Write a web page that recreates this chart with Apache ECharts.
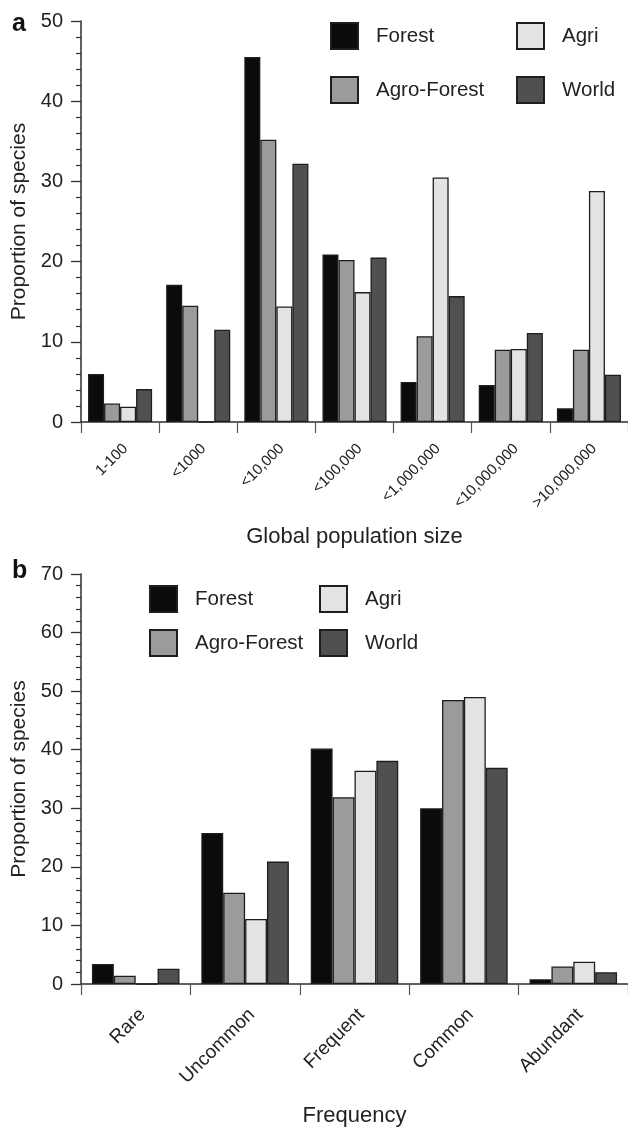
<!DOCTYPE html>
<html>
<head>
<meta charset="utf-8">
<script src="https://cdn.jsdelivr.net/npm/echarts@6/dist/echarts.min.js"></script>
<style>
  html, body { margin: 0; padding: 0; background: #ffffff; }
  #chart { width: 628px; height: 1128px; }
</style>
</head>
<body>
<div id="chart"></div>
<script>
// Panel a: global population size classes
const popCategories = ['1-100', '<1000', '<10,000', '<100,000', '<1,000,000', '<10,000,000', '>10,000,000'];
const popForest      = [6.0, 17.1, 45.5, 20.9, 5.0, 4.6, 1.7];
const popAgroForest  = [2.3, 14.5, 35.2, 20.2, 10.7, 9.0, 9.0];
const popAgri        = [1.9, 0, 14.4, 16.2, 30.5, 9.1, 28.8];
const popWorld       = [4.1, 11.5, 32.2, 20.5, 15.7, 11.1, 5.9];

// Panel b: frequency classes
const freqCategories = ['Rare', 'Uncommon', 'Frequent', 'Common', 'Abundant'];
const freqForest     = [3.4, 25.8, 40.2, 30.0, 0.8];
const freqAgroForest = [1.4, 15.6, 31.9, 48.5, 3.0];
const freqAgri       = [0, 11.1, 36.4, 49.0, 3.8];
const freqWorld      = [2.6, 20.9, 38.1, 36.9, 2.0];

const seriesColors = { 'Forest': '#0b0b0b', 'Agro-Forest': '#9b9b9b', 'Agri': '#e3e3e3', 'World': '#505050' };

const FONT = 'Liberation Sans, Arial, Helvetica, sans-serif';
const AXIS_COLOR = '#2e2e2e';

function xAxisFor(gridIndex, cats, name, nameGap, labelSize, labelMargin) {
  return {
    type: 'category', gridIndex: gridIndex, data: cats,
    name: name, nameLocation: 'middle', nameGap: nameGap,
    nameTextStyle: { fontFamily: FONT, fontSize: 22, color: '#222' },
    axisLine: { show: true, lineStyle: { color: AXIS_COLOR, width: 1.5 } },
    axisTick: { show: true, length: 11, interval: 0, lineStyle: { color: '#555', width: 1.2 } },
    axisLabel: {
      interval: 0, rotate: 45, margin: labelMargin, verticalAlign: 'top',
      fontFamily: FONT, fontSize: labelSize, color: '#222'
    },
    splitLine: { show: false }
  };
}

function yAxisFor(gridIndex, max) {
  return {
    type: 'value', gridIndex: gridIndex, min: 0, max: max, interval: 10,
    name: 'Proportion of species', nameLocation: 'middle', nameGap: 50,
    nameTextStyle: { fontFamily: FONT, fontSize: 21, color: '#222' },
    axisLine: { show: true, lineStyle: { color: AXIS_COLOR, width: 1.5 } },
    axisTick: { show: true, length: 10, lineStyle: { color: AXIS_COLOR, width: 1.3 } },
    minorTick: { show: true, splitNumber: 5, length: 5, lineStyle: { color: AXIS_COLOR, width: 1.2 } },
    axisLabel: { margin: 18, fontFamily: FONT, fontSize: 20, color: '#222' },
    splitLine: { show: false }
  };
}

function barSeries(name, data, idx, catGap) {
  return {
    type: 'bar', name: name, data: data,
    xAxisIndex: idx, yAxisIndex: idx,
    barGap: '0%', barCategoryGap: catGap,
    itemStyle: { color: seriesColors[name], borderColor: '#1e1e1e', borderWidth: 1.3 },
    emphasis: { disabled: true }
  };
}

function legendColumn(left, top, names, gap) {
  return {
    left: left, top: top, orient: 'vertical',
    data: names, itemWidth: 27, itemHeight: 26, itemGap: gap,
    icon: 'rect', selectedMode: false,
    textStyle: { fontFamily: FONT, fontSize: 20.5, color: '#222', padding: [0, 0, 0, 13] }
  };
}

const chart = echarts.init(document.getElementById('chart'), null, { renderer: 'canvas' });

chart.setOption({
  animation: false,
  backgroundColor: '#ffffff',
  grid: [
    { left: 81, top: 21, width: 550, height: 401 },
    { left: 81, top: 574, width: 550, height: 410 }
  ],
  xAxis: [
    xAxisFor(0, popCategories, 'Global population size', 104, 15, 19),
    xAxisFor(1, freqCategories, 'Frequency', 121, 19, 21)
  ],
  yAxis: [
    yAxisFor(0, 50),
    yAxisFor(1, 70)
  ],
  legend: [
    legendColumn(325, 17, ['Forest', 'Agro-Forest'], 26),
    legendColumn(511, 17, ['Agri', 'World'], 26),
    legendColumn(144, 580, ['Forest', 'Agro-Forest'], 16),
    legendColumn(314, 580, ['Agri', 'World'], 16)
  ],
  graphic: [
    { type: 'text', left: 12, top: 12, style: { text: 'a', font: 'bold 25px ' + FONT, fill: '#111' } },
    { type: 'text', left: 12, top: 559, style: { text: 'b', font: 'bold 25px ' + FONT, fill: '#111' } }
  ],
  series: [
    barSeries('Forest', popForest, 0, '18%'),
    barSeries('Agro-Forest', popAgroForest, 0, '18%'),
    barSeries('Agri', popAgri, 0, '18%'),
    barSeries('World', popWorld, 0, '18%'),
    barSeries('Forest', freqForest, 1, '20%'),
    barSeries('Agro-Forest', freqAgroForest, 1, '20%'),
    barSeries('Agri', freqAgri, 1, '20%'),
    barSeries('World', freqWorld, 1, '20%')
  ]
});
</script>
</body>
</html>
